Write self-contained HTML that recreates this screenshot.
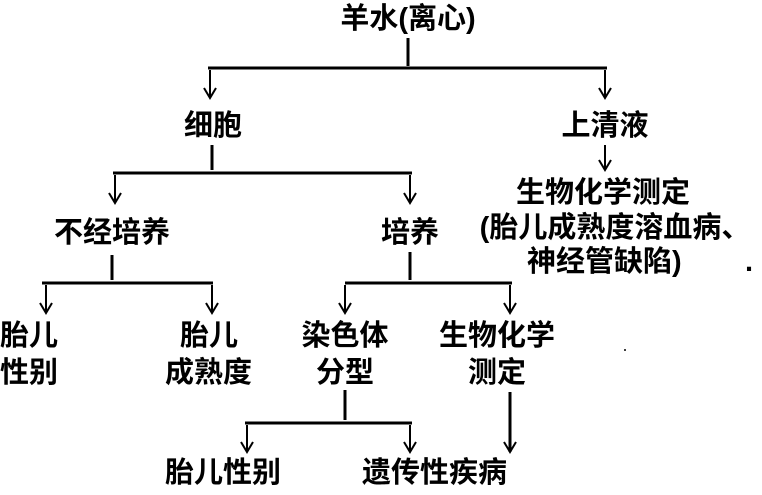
<!DOCTYPE html>
<html><head><meta charset="utf-8"><style>
body{margin:0;background:#fff;width:762px;height:490px;overflow:hidden}
svg text{font-family:"Liberation Sans","Noto Sans CJK SC",sans-serif;font-size:29px;font-weight:bold;fill:#000}
</style></head><body>
<svg width="762" height="490" viewBox="0 0 762 490">
<defs><marker id="a" markerWidth="14" markerHeight="14" refX="12" refY="7" orient="auto" markerUnits="userSpaceOnUse"><path d="M2,1 L12,7 L2,13" fill="none" stroke="#000" stroke-width="2"/></marker></defs>
<g stroke="#000" stroke-width="3" fill="none">
<path d="M408,38V66M208,68H607"/>
<path d="M212,145V170M113,173H412"/>
<path d="M112,255V280M42,283H213M410,252V280M345,283H512"/>
<path d="M345,390V420M245,423H412"/>
</g>
<g stroke="#000" stroke-width="2" marker-end="url(#a)">
<line x1="210" y1="70" x2="210" y2="98"/>
<line x1="605" y1="70" x2="605" y2="98"/>
<line x1="605" y1="145" x2="605" y2="170"/>
<line x1="115" y1="175" x2="115" y2="203"/>
<line x1="410" y1="175" x2="410" y2="203"/>
<line x1="46" y1="285" x2="46" y2="313"/>
<line x1="212" y1="285" x2="212" y2="313"/>
<line x1="345" y1="285" x2="345" y2="313"/>
<line x1="510" y1="285" x2="510" y2="313"/>
<line x1="247" y1="425" x2="247" y2="452"/>
<line x1="410" y1="425" x2="410" y2="452"/>
<line x1="510" y1="392" x2="510" y2="452" stroke-width="3"/>
</g>
<circle cx="625" cy="350" r="1" fill="#000"/>
<text x="408" y="28" text-anchor="middle">羊水(离心)</text>
<text x="213" y="135" text-anchor="middle">细胞</text>
<text x="605" y="135" text-anchor="middle">上清液</text>
<text x="603" y="202" text-anchor="middle">生物化学测定</text>
<text x="615" y="237" text-anchor="middle">(胎儿成熟度溶血病、</text>
<text x="527" y="271">神经管缺陷)</text>
<text x="745" y="271" font-size="14">. .</text>
<text x="112" y="242" text-anchor="middle">不经培养</text>
<text x="410" y="242" text-anchor="middle">培养</text>
<text x="0" y="345">胎儿</text>
<text x="0" y="382">性别</text>
<text x="180" y="345">胎儿</text>
<text x="165" y="382">成熟度</text>
<text x="345" y="345" text-anchor="middle">染色体</text>
<text x="345" y="382" text-anchor="middle">分型</text>
<text x="497" y="345" text-anchor="middle">生物化学</text>
<text x="497" y="382" text-anchor="middle">测定</text>
<text x="165" y="482">胎儿性别</text>
<text x="362" y="482">遗传性疾病</text>
</svg>
</body></html>
